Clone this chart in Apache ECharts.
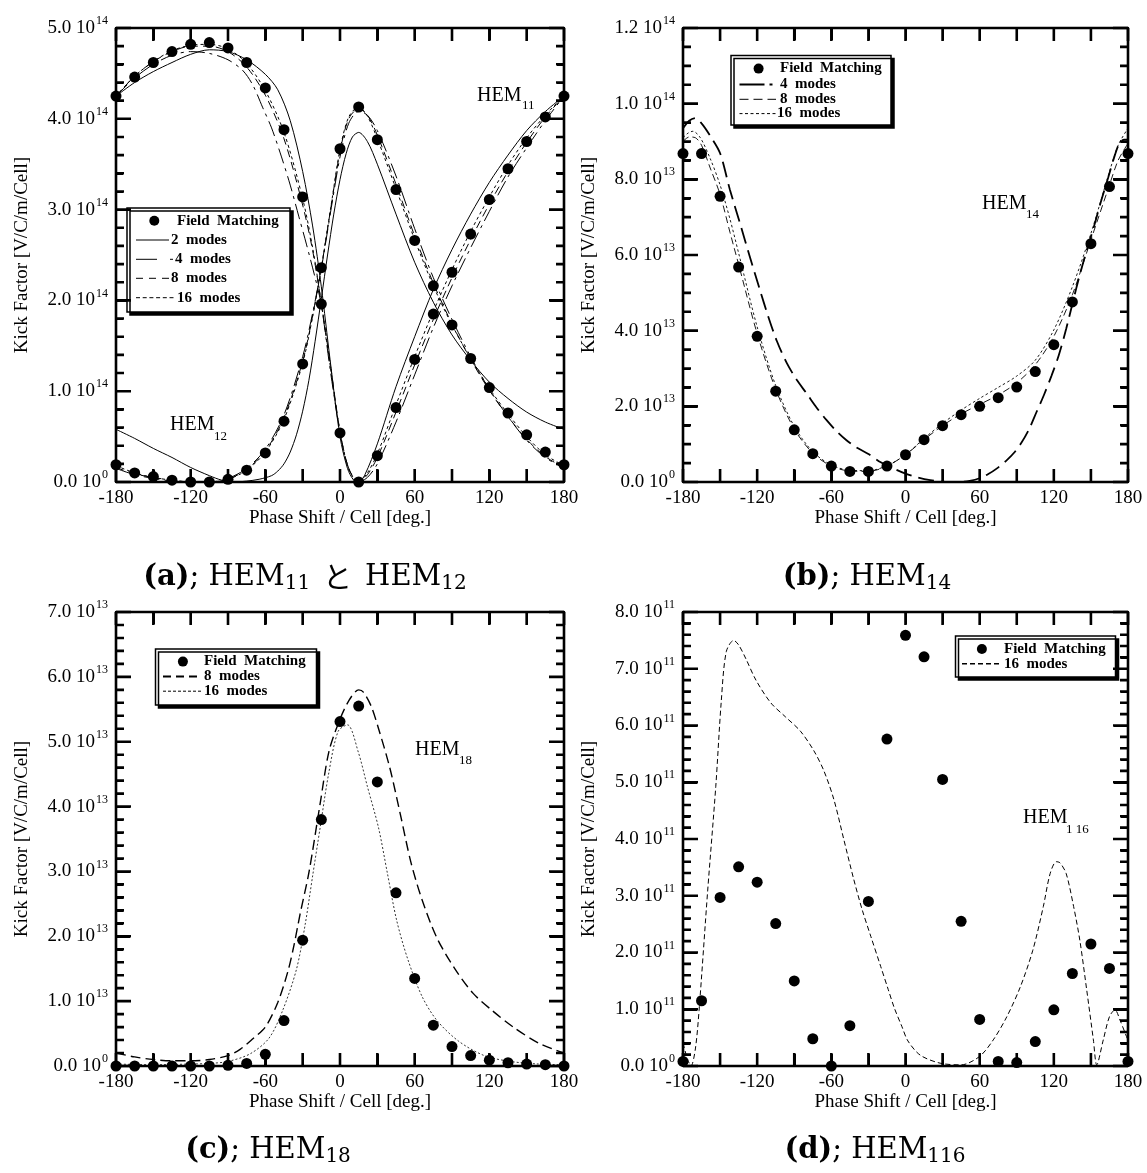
<!DOCTYPE html>
<html>
<head>
<meta charset="utf-8">
<script src="https://cdn.jsdelivr.net/npm/echarts@6/dist/echarts.min.js"></script>
<style>
html, body { margin: 0; padding: 0; background: #fff; }
#chart { width: 1147px; height: 1173px; }
</style>
</head>
<body>
<div id="chart"></div>
<script>
// Phase shift per cell [deg], shared by all field-matching points
const phaseDeg = [-180, -165, -150, -135, -120, -105, -90, -75, -60, -45, -30, -15, 0,
                  15, 30, 45, 60, 75, 90, 105, 120, 135, 150, 165, 180];

// (a) HEM11 / HEM12, kick factor in units of 1e14 V/C/m/Cell
const hem11Field = [4.25, 4.46, 4.62, 4.74, 4.82, 4.84, 4.78, 4.62, 4.34, 3.88, 3.14, 1.96, 0.54,
                    0.0, 0.29, 0.82, 1.35, 1.85, 2.31, 2.73, 3.11, 3.45, 3.75, 4.02, 4.25];
const hem12Field = [0.19, 0.10, 0.06, 0.02, 0.0, 0.0, 0.03, 0.13, 0.32, 0.67, 1.30, 2.36, 3.67,
                    4.13, 3.77, 3.22, 2.66, 2.16, 1.73, 1.36, 1.04, 0.76, 0.52, 0.33, 0.19];
const hem11Modes2 = [[-180,4.25],[-165,4.40],[-150,4.52],[-135,4.62],[-120,4.71],[-105,4.76],[-90,4.74],
  [-75,4.65],[-60,4.49],[-50,4.32],[-40,3.98],[-30,3.42],[-22,2.82],[-15,2.15],[-8,1.35],[0,0.5],[6,0.15],
  [11,0.02],[15,0.0],[20,0.08],[30,0.42],[45,1.05],[60,1.6],[75,2.12],[90,2.56],[105,2.95],[120,3.3],
  [135,3.6],[150,3.87],[165,4.08],[180,4.25]];
const hem12Modes2 = [[-180,0.58],[-165,0.48],[-150,0.37],[-135,0.27],[-120,0.16],[-105,0.07],[-95,0.02],
  [-85,0.0],[-75,0.01],[-65,0.03],[-55,0.07],[-50,0.12],[-45,0.2],[-40,0.33],[-35,0.52],[-30,0.78],
  [-25,1.12],[-20,1.55],[-15,2.02],[-10,2.5],[-5,2.95],[0,3.33],[5,3.62],[10,3.8],[15,3.85],[22,3.75],
  [30,3.5],[45,2.95],[60,2.42],[75,1.98],[90,1.62],[105,1.34],[120,1.1],[135,0.92],[150,0.77],[165,0.66],
  [180,0.58]];
const hem11Modes4 = [[-180,4.25],[-165,4.45],[-150,4.6],[-135,4.7],[-120,4.74],[-105,4.72],[-90,4.65],
  [-78,4.53],[-70,4.37],[-62,4.12],[-55,3.9],[-47,3.58],[-40,3.27],[-33,2.92],[-27,2.62],[-20,2.25],
  [-15,1.95],[-8,1.25],[0,0.55],[7,0.15],[15,0.0],[22,0.05],[30,0.2],[45,0.66],[60,1.18],[75,1.7],
  [90,2.16],[105,2.58],[120,2.98],[135,3.36],[150,3.68],[165,3.98],[180,4.25]];
const hem12Modes4 = [[-180,0.15],[-165,0.08],[-150,0.04],[-135,0.01],[-120,0.0],[-105,0.0],[-90,0.04],
  [-75,0.15],[-60,0.36],[-45,0.74],[-30,1.38],[-22,1.86],[-15,2.35],[-7,3.02],[0,3.58],[7,3.95],[15,4.08],
  [22,4.04],[30,3.87],[45,3.37],[60,2.79],[75,2.25],[90,1.79],[105,1.38],[120,1.02],[135,0.72],[150,0.46],
  [165,0.27],[180,0.15]];
const hem11Modes8 = [[-180,4.25],[-165,4.47],[-150,4.63],[-135,4.74],[-120,4.8],[-105,4.8],[-90,4.74],
  [-75,4.57],[-60,4.26],[-45,3.78],[-30,3.05],[-22,2.55],[-15,1.97],[-7,1.22],[0,0.56],[7,0.15],[15,0.0],
  [22,0.08],[30,0.27],[45,0.77],[60,1.29],[75,1.79],[90,2.25],[105,2.67],[120,3.06],[135,3.42],[150,3.74],
  [165,4.02],[180,4.25]];
const hem12Modes8 = [[-180,0.16],[-165,0.09],[-150,0.05],[-135,0.02],[-120,0.0],[-105,0.0],[-90,0.03],
  [-75,0.14],[-60,0.34],[-45,0.71],[-30,1.33],[-22,1.83],[-15,2.36],[-7,3.05],[0,3.64],[7,4.0],[15,4.11],
  [22,4.04],[30,3.82],[45,3.28],[60,2.71],[75,2.19],[90,1.74],[105,1.35],[120,1.01],[135,0.72],[150,0.47],
  [165,0.28],[180,0.16]];
const hem11Modes16 = [[-180,4.25],[-165,4.47],[-150,4.63],[-135,4.75],[-120,4.81],[-105,4.82],[-90,4.77],
  [-75,4.61],[-60,4.31],[-45,3.85],[-30,3.12],[-22,2.58],[-15,1.97],[-7,1.2],[0,0.55],[7,0.14],[15,0.0],
  [22,0.1],[30,0.31],[45,0.85],[60,1.38],[75,1.88],[90,2.34],[105,2.76],[120,3.14],[135,3.49],[150,3.79],
  [165,4.04],[180,4.25]];
const hem12Modes16 = [[-180,0.18],[-165,0.1],[-150,0.05],[-135,0.02],[-120,0.0],[-105,0.0],[-90,0.03],
  [-75,0.13],[-60,0.33],[-45,0.69],[-30,1.31],[-22,1.82],[-15,2.36],[-7,3.06],[0,3.66],[7,4.02],[15,4.13],
  [22,4.03],[30,3.78],[45,3.23],[60,2.67],[75,2.16],[90,1.73],[105,1.36],[120,1.03],[135,0.75],[150,0.5],
  [165,0.3],[180,0.18]];

// (b) HEM14, units of 1e13
const hem14Field = [8.68, 8.68, 7.55, 5.68, 3.85, 2.40, 1.38, 0.75, 0.42, 0.28, 0.28, 0.42, 0.72,
                    1.12, 1.49, 1.78, 2.00, 2.23, 2.51, 2.92, 3.63, 4.76, 6.30, 7.81, 8.68];
const hem14Modes4 = [[-180,9.35],[-175,9.55],[-170,9.62],[-165,9.48],[-158,9.15],[-150,8.69],[-142,7.72],
  [-134,6.85],[-126,5.96],[-118,5.1],[-111,4.37],[-104,3.72],[-96,3.14],[-88,2.7],[-80,2.34],[-72,1.97],
  [-64,1.64],[-56,1.35],[-48,1.11],[-40,0.92],[-30,0.74],[-20,0.52],[-10,0.36],[0,0.22],[10,0.12],
  [20,0.05],[30,0.01],[44,0.0],[52,0.03],[60,0.1],[67,0.21],[74,0.36],[82,0.58],[88,0.78],[94,1.05],
  [100,1.4],[106,1.85],[112,2.3],[118,2.8],[124,3.35],[130,4.05],[138,5.1],[145,5.95],[152,6.7],
  [158,7.4],[164,8.05],[169,8.6],[173,8.95],[177,9.05],[180,9.05]];
const hem14Modes8 = [[-180,9.0],[-175,9.12],[-170,9.1],[-165,8.9],[-158,8.3],[-150,7.6],[-142,6.6],
  [-135,5.75],[-120,3.92],[-105,2.45],[-90,1.4],[-75,0.76],[-60,0.42],[-45,0.29],[-30,0.28],[-15,0.42],
  [0,0.72],[15,1.12],[30,1.49],[45,1.8],[60,2.05],[75,2.3],[90,2.62],[105,3.1],[120,3.85],[135,4.95],
  [150,6.4],[165,7.85],[172,8.5],[180,8.95]];
const hem14Modes16 = [[-180,9.1],[-176,9.22],[-172,9.27],[-166,9.1],[-158,8.55],[-150,7.85],[-142,6.95],
  [-135,6.05],[-120,4.1],[-105,2.55],[-90,1.47],[-75,0.8],[-60,0.45],[-45,0.31],[-30,0.3],[-15,0.43],
  [0,0.72],[15,1.15],[30,1.55],[45,1.9],[60,2.21],[75,2.5],[90,2.8],[105,3.22],[120,4.02],[135,5.16],
  [150,6.57],[165,8.2],[172,8.9],[180,9.35]];

// (c) HEM18, units of 1e13
const hem18Field = [0.0, 0.0, 0.0, 0.0, 0.0, 0.0, 0.01, 0.04, 0.18, 0.70, 1.94, 3.80, 5.31,
                    5.55, 4.38, 2.67, 1.35, 0.63, 0.30, 0.16, 0.09, 0.05, 0.03, 0.02, 0.0];
const hem18Modes8 = [[-180,0.2],[-165,0.14],[-150,0.1],[-135,0.08],[-120,0.08],[-105,0.1],[-90,0.16],
  [-80,0.26],[-70,0.42],[-60,0.6],[-50,0.98],[-42,1.45],[-37,1.86],[-32,2.35],[-25,2.98],[-16,4.04],
  [-9,4.84],[-1,5.3],[7,5.63],[15,5.8],[19,5.76],[25,5.55],[31,5.2],[40,4.6],[48.5,3.88],[57,3.14],
  [66,2.56],[78,1.97],[92.6,1.49],[107,1.12],[122,0.86],[140,0.59],[160,0.35],[180,0.2]];
const hem18Modes16 = [[-180,0.03],[-150,0.02],[-120,0.03],[-105,0.04],[-90,0.07],[-72,0.19],[-57,0.43],
  [-46,0.86],[-35,1.49],[-28,2.18],[-22,2.93],[-16,3.67],[-9,4.52],[-1.5,5.16],[6,5.26],[14.7,4.84],
  [22,4.31],[31,3.67],[38,2.98],[45.6,2.24],[54.4,1.65],[66,1.07],[78,0.7],[95.5,0.38],[116,0.16],
  [137,0.07],[160,0.03],[180,0.02]];

// (d) HEM1 16, units of 1e11
const hem116Field = [0.08, 1.15, 2.97, 3.51, 3.24, 2.51, 1.50, 0.48, 0.0, 0.71, 2.90, 5.76, 7.59,
                     7.21, 5.05, 2.55, 0.82, 0.08, 0.06, 0.43, 0.99, 1.63, 2.15, 1.72, 0.08];
const hem116Modes16 = [[-180,0.4],[-176,0.1],[-173.5,0.0],[-170,0.3],[-167,0.98],[-160,3.1],[-153.5,4.92],
  [-149,6.44],[-145,7.3],[-139,7.5],[-135,7.42],[-129,7.17],[-121,6.8],[-109,6.4],[-97,6.15],[-85,5.9],
  [-74,5.55],[-66,5.2],[-58,4.7],[-50,4.0],[-42,3.3],[-35,2.75],[-28,2.28],[-20,1.75],[-14,1.35],[-9,1.02],
  [-3,0.7],[2,0.44],[12,0.19],[28,0.05],[45,0.02],[60,0.17],[71,0.46],[82,0.87],[93,1.40],[103,2.04],
  [111.5,2.81],[117,3.39],[122,3.6],[125,3.58],[130,3.39],[136,2.81],[141,2.22],[146.6,1.34],[152,0.46],
  [154.7,0.02],[160,0.46],[165,0.87],[169.5,0.99],[173.5,0.81],[180,0.45]];

// y-axis ranges [max, label step, minor divisions, unit exponent]
const panelYAxes = [
  [5, 1, 5, 14],
  [12, 2, 4, 13],
  [7, 1, 5, 13],
  [8, 1, 5, 11]
];
const X_MIN = -180, X_MAX = 180, X_TICK = 30, X_LABEL_STEP = 60;

const SERIF = '"Liberation Serif", "Times New Roman", serif';
const grids = [
  { left: 116, top: 28, width: 448, height: 454 },
  { left: 683, top: 28, width: 445, height: 454 },
  { left: 116, top: 612, width: 448, height: 454 },
  { left: 683, top: 612, width: 445, height: 454 }
];

function sciLabel(unitExp) {
  return function (v) {
    if (Math.abs(v) < 1e-9) return '0.0 10{s|0}';
    const k = Math.floor(Math.log10(v) + 1e-9);
    const mant = v / Math.pow(10, k);
    return mant.toFixed(1) + ' 10{s|' + (unitExp + k) + '}';
  };
}

function frameLine() {
  return { show: true, onZero: false, lineStyle: { color: '#000', width: 2 } };
}

const xAxes = [];
const yAxes = [];
grids.forEach(function (g, gi) {
  function xBase() {
    return {
      type: 'value', gridIndex: gi, min: X_MIN, max: X_MAX, interval: X_TICK,
      axisLine: frameLine(),
      axisTick: { show: true, inside: true, length: 12, lineStyle: { color: '#000', width: 2 } },
      splitLine: { show: false }
    };
  }
  xAxes.push(Object.assign(xBase(), {
    position: 'bottom',
    axisLabel: {
      color: '#000', fontFamily: SERIF, fontSize: 19, margin: 7,
      formatter: function (v) { return v % X_LABEL_STEP === 0 ? String(v) : ''; }
    },
    name: 'Phase Shift / Cell [deg.]', nameLocation: 'middle', nameGap: 24,
    nameTextStyle: { color: '#000', fontFamily: SERIF, fontSize: 19 }
  }));
  xAxes.push(Object.assign(xBase(), { position: 'top', axisLabel: { show: false } }));

  const cfg = panelYAxes[gi];
  function yBase() {
    return {
      type: 'value', gridIndex: gi, min: 0, max: cfg[0], interval: cfg[1],
      axisLine: frameLine(),
      axisTick: { show: true, inside: true, length: 14, lineStyle: { color: '#000', width: 2 } },
      minorTick: { show: true, splitNumber: cfg[2], length: 7, lineStyle: { color: '#000', width: 2 } },
      splitLine: { show: false }, minorSplitLine: { show: false }
    };
  }
  yAxes.push(Object.assign(yBase(), {
    position: 'left',
    axisLabel: {
      color: '#000', fontFamily: SERIF, fontSize: 19, margin: 8,
      formatter: sciLabel(cfg[3]),
      rich: { s: { fontFamily: SERIF, fontSize: 12, padding: [0, 0, 14, 1], color: '#000' } }
    },
    name: 'Kick Factor [V/C/m/Cell]', nameLocation: 'middle', nameGap: 84,
    nameTextStyle: { color: '#000', fontFamily: SERIF, fontSize: 19 }
  }));
  yAxes.push(Object.assign(yBase(), { position: 'right', axisLabel: { show: false } }));
});

function dots(gi, values) {
  return {
    type: 'scatter', xAxisIndex: gi * 2, yAxisIndex: gi * 2, z: 5,
    symbol: 'circle', symbolSize: 11, itemStyle: { color: '#000', opacity: 1 },
    data: phaseDeg.map(function (d, i) { return [d, values[i]]; })
  };
}
function curve(gi, data, dash, width) {
  return {
    type: 'line', xAxisIndex: gi * 2, yAxisIndex: gi * 2, z: 3,
    data: data, showSymbol: false, symbol: 'none', smooth: 0.3,
    lineStyle: { color: '#000', width: width || 1, type: dash, opacity: 1 }
  };
}

const DASH4 = [16, 5, 3, 5];
const DASH8 = [8, 5];
const DASH16 = [3, 3];

const series = [
  curve(0, hem11Modes2, 'solid'), curve(0, hem12Modes2, 'solid'),
  curve(0, hem11Modes4, DASH4), curve(0, hem12Modes4, DASH4),
  curve(0, hem11Modes8, DASH8), curve(0, hem12Modes8, DASH8),
  curve(0, hem11Modes16, DASH16), curve(0, hem12Modes16, DASH16),
  dots(0, hem11Field), dots(0, hem12Field),

  curve(1, hem14Modes4, [16, 7], 1.8),
  curve(1, hem14Modes8, [7, 4], 0.9),
  curve(1, hem14Modes16, [2.5, 2.5], 0.9),
  dots(1, hem14Field),

  curve(2, hem18Modes8, [10, 5], 1.4),
  curve(2, hem18Modes16, [2, 2], 0.8),
  dots(2, hem18Field),

  curve(3, hem116Modes16, [5, 3], 1),
  dots(3, hem116Field)
];

// Legend boxes drawn with graphic primitives
function legendBox(box, rows) {
  const els = [{
    type: 'rect', z: 20,
    shape: { x: box.x, y: box.y, width: box.w, height: box.h },
    style: { fill: '#fff', stroke: '#000', lineWidth: 1.5, shadowColor: '#000', shadowOffsetX: 3, shadowOffsetY: 3, shadowBlur: 0 }
  }];
  rows.forEach(function (r) {
    if (r.dot) {
      els.push({ type: 'circle', z: 21, shape: { cx: r.dot, cy: r.y, r: 5 }, style: { fill: '#000' } });
    } else {
      els.push({
        type: 'line', z: 21, shape: { x1: r.x1, y1: r.y, x2: r.x2, y2: r.y },
        style: { stroke: '#000', lineWidth: r.w || 1, lineDash: r.dash || null }
      });
    }
    els.push({
      type: 'text', z: 21, x: r.tx, y: r.y,
      style: { text: r.label, fill: '#000', font: 'bold 15px ' + SERIF, textAlign: 'left', textVerticalAlign: 'middle', align: 'left', verticalAlign: 'middle' }
    });
  });
  return els;
}

function plainText(x, y, txt, size, align) {
  return {
    type: 'text', z: 21, x: x, y: y,
    style: { text: txt, fill: '#000', font: size + 'px ' + SERIF, textAlign: align || 'left', textVerticalAlign: 'middle', align: align || 'left', verticalAlign: 'middle' }
  };
}

function caption(cx, cy, txt) {
  const fam = '"DejaVu Serif", serif';
  return {
    type: 'text', z: 21, x: cx, y: cy,
    style: {
      text: txt, fill: '#000', textAlign: 'center', textVerticalAlign: 'middle', align: 'center', verticalAlign: 'middle',
      rich: {
        b: { fontFamily: fam, fontWeight: 'bold', fontSize: 29, color: '#000' },
        r: { fontFamily: fam, fontSize: 29, color: '#000' },
        s: { fontFamily: fam, fontSize: 20, padding: [14, 0, 0, 0], color: '#000' },
        j: { fontFamily: '"Noto Sans CJK JP", sans-serif', fontSize: 29, color: '#000' }
      }
    }
  };
}

// Inward tick marks along each side of every frame, drawn as one continuous
// comb-shaped polyline per side (along the frame, in for each tick, back out).
function frameTickElements() {
  const els = [];
  function comb(points) {
    els.push({
      type: 'polyline', z: 30, shape: { points: points },
      style: { stroke: '#000', lineWidth: 2.6, fill: null, lineJoin: 'bevel', lineCap: 'butt' }
    });
  }
  grids.forEach(function (g, gi) {
    const cfg = panelYAxes[gi];
    const bottom = g.top + g.height, right = g.left + g.width;
    const pb = [], pt = [];
    for (let v = X_MIN; v <= X_MAX; v += X_TICK) {
      const x = g.left + (v - X_MIN) / (X_MAX - X_MIN) * g.width;
      pb.push([x, bottom], [x, bottom - 13], [x, bottom]);
      pt.push([x, g.top], [x, g.top + 13], [x, g.top]);
    }
    comb(pb); comb(pt);
    const nMinor = Math.round(cfg[0] / cfg[1]) * cfg[2];
    const pl = [], pr = [];
    for (let i = 0; i <= nMinor; i++) {
      const y = bottom - i / nMinor * g.height;
      const len = i % cfg[2] === 0 ? 15 : 8;
      pl.push([g.left, y], [g.left + len, y], [g.left, y]);
      pr.push([right, y], [right - len, y], [right, y]);
    }
    comb(pl); comb(pr);
  });
  return els;
}

const graphics = [].concat(
  frameTickElements(),
  legendBox({ x: 127, y: 208, w: 163, h: 104 }, [
    { y: 220.7, dot: 154.3, tx: 177, label: 'Field  Matching' },
    { y: 240, x1: 136, x2: 169, tx: 171, label: '2  modes' },
    { y: 259.3, x1: 136, x2: 173, dash: [21, 13, 3, 100], tx: 175, label: '4  modes' },
    { y: 278.3, x1: 136, x2: 170, dash: [7, 6], tx: 171, label: '8  modes' },
    { y: 297.7, x1: 136, x2: 175, dash: [4, 2.7], tx: 177, label: '16  modes' }
  ]),
  legendBox({ x: 731, y: 55.5, w: 160, h: 69.5 }, [
    { y: 68.6, dot: 758.6, tx: 780, label: 'Field  Matching' },
    { y: 84.6, x1: 739.5, x2: 776, w: 2, dash: [25, 5, 3, 100], tx: 780, label: '4  modes' },
    { y: 99.3, x1: 739.5, x2: 776, dash: [9, 5], tx: 780, label: '8  modes' },
    { y: 113.6, x1: 739.5, x2: 776, dash: [3, 2.5], tx: 777, label: '16  modes' }
  ]),
  legendBox({ x: 155.5, y: 649, w: 161, h: 56 }, [
    { y: 661.6, dot: 182.9, tx: 204, label: 'Field  Matching' },
    { y: 676.4, x1: 163, x2: 201, w: 2, dash: [8, 5], tx: 204, label: '8  modes' },
    { y: 691.2, x1: 163, x2: 201, dash: [3, 2], tx: 204, label: '16  modes' }
  ]),
  legendBox({ x: 955.5, y: 636, w: 160, h: 41 }, [
    { y: 649, dot: 981.9, tx: 1004, label: 'Field  Matching' },
    { y: 663.7, x1: 962, x2: 1000, w: 1.6, dash: [5, 3], tx: 1004, label: '16  modes' }
  ]),
  [
    plainText(477, 96, 'HEM', 20), plainText(522, 106, '11', 13),
    plainText(170, 425, 'HEM', 20), plainText(214, 437, '12', 13),
    plainText(982, 204, 'HEM', 20), plainText(1026, 215, '14', 13),
    plainText(415, 750, 'HEM', 20), plainText(459, 761, '18', 13),
    plainText(1023, 818, 'HEM', 20), plainText(1066, 830, '1 16', 13),
    caption(305, 577, '{b|(a)}{r|; HEM}{s|11}{j|  と  }{r|HEM}{s|12}'),
    caption(867, 577, '{b|(b)}{r|; HEM}{s|14}'),
    caption(268, 1150, '{b|(c)}{r|; HEM}{s|18}'),
    caption(875, 1150, '{b|(d)}{r|; HEM}{s|116}')
  ]
);

const chart = echarts.init(document.getElementById('chart'), null, { renderer: 'canvas' });
chart.setOption({
  animation: false,
  backgroundColor: '#fff',
  grid: grids,
  xAxis: xAxes,
  yAxis: yAxes,
  series: series,
  graphic: graphics
});
</script>
</body>
</html>
